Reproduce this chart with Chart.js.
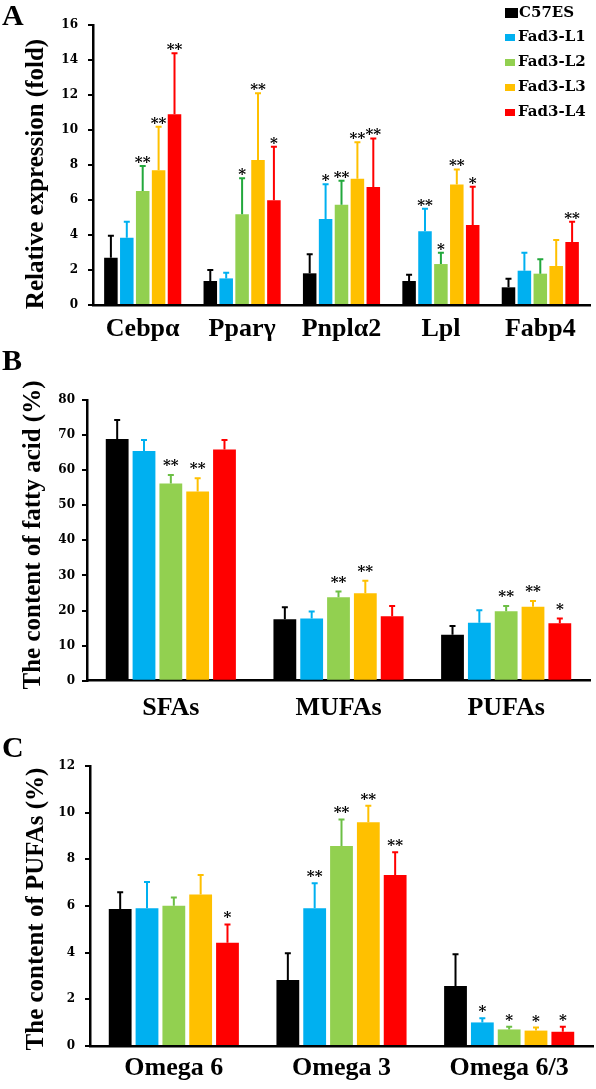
<!DOCTYPE html>
<html lang="en">
  <head>
    <meta charset="UTF-8" />
    <title>Fad3 expression and fatty acid content</title>
    <script src="https://cdn.jsdelivr.net/npm/chart.js"></script>
    <style>
      body { margin: 0; background: #fff; }
      #page { position: relative; width: 596px; height: 1089px; overflow: hidden; }
      canvas { position: absolute; left: 0; }
      .panel {
        position: absolute; left: 2px; z-index: 2;
        font: bold 30px "Liberation Serif", serif; line-height: 30px;
      }
      #legend {
        position: absolute; left: 505px; top: 0; z-index: 2;
        font: bold 15px "DejaVu Serif", serif;
      }
      #legend div { position: absolute; left: 0; white-space: nowrap; height: 16px; line-height: 16px; }
      #legend span { display: inline-block; width: 10px; height: 7px; margin-right: 3px; vertical-align: middle; }
    </style>
  </head>
  <body>
    <div id="page">
      <canvas id="chart-a" width="596" height="350" style="top:0"></canvas>
      <canvas id="chart-b" width="596" height="390" style="top:340px"></canvas>
      <canvas id="chart-c" width="596" height="389" style="top:700px"></canvas>
      <div class="panel" style="top:0">A</div>
      <div class="panel" style="top:345px">B</div>
      <div class="panel" style="top:732px">C</div>
      <div id="legend"></div>
    </div>
    <script>
      const groups = ["C57ES", "Fad3-L1", "Fad3-L2", "Fad3-L3", "Fad3-L4"];
      const colors = ["#000000", "#00b0f0", "#92d050", "#ffc000", "#ff0000"];

      // A - relative expression, one row per group
      const genes = ["Cebpα", "Pparγ", "Pnplα2", "Lpl", "Fabp4"];
      const geneMean = [
        [2.7, 1.37, 1.81, 1.37, 1.01],
        [3.85, 1.52, 4.91, 4.21, 1.96],
        [6.51, 5.18, 5.73, 2.34, 1.79],
        [7.7, 8.29, 7.22, 6.88, 2.23],
        [10.9, 5.98, 6.74, 4.57, 3.6],
      ];
      const geneSd = [
        [1.26, 0.63, 1.09, 0.36, 0.49],
        [0.91, 0.33, 1.99, 1.29, 1.03],
        [1.43, 2.06, 1.37, 0.65, 0.82],
        [2.49, 3.81, 2.08, 0.87, 1.48],
        [3.48, 3.07, 2.78, 2.19, 1.16],
      ];
      const geneSig = [
        ["", "", "", "", ""],
        ["", "", "*", "**", ""],
        ["**", "*", "**", "*", ""],
        ["**", "**", "**", "**", ""],
        ["**", "*", "**", "*", "**"],
      ];

      // B - fatty acid content (%)
      const fattyClasses = ["SFAs", "MUFAs", "PUFAs"];
      const fattyMean = [
        [68.9, 17.5, 13.1],
        [65.5, 17.7, 16.5],
        [56.2, 23.8, 19.8],
        [53.9, 24.9, 21.1],
        [65.9, 18.4, 16.4],
      ];
      const fattySd = [
        [5.4, 3.4, 2.5],
        [3.1, 2.0, 3.6],
        [2.4, 1.6, 1.5],
        [3.8, 3.6, 1.6],
        [2.7, 2.9, 1.3],
      ];
      const fattySig = [
        ["", "", ""],
        ["", "", ""],
        ["**", "**", "**"],
        ["**", "**", "**"],
        ["", "", "*"],
      ];

      // C - PUFAs content (%)
      const pufaClasses = ["Omega 6", "Omega 3", "Omega 6/3"];
      const pufaMean = [
        [5.87, 2.83, 2.57],
        [5.9, 5.9, 1.01],
        [6.01, 8.57, 0.71],
        [6.49, 9.59, 0.66],
        [4.43, 7.33, 0.61],
      ];
      const pufaSd = [
        [0.72, 1.14, 1.36],
        [1.13, 1.07, 0.18],
        [0.35, 1.14, 0.12],
        [0.84, 0.71, 0.13],
        [0.78, 0.97, 0.22],
      ];
      const pufaSig = [
        ["", "", ""],
        ["", "**", "*"],
        ["", "**", "*"],
        ["", "**", "*"],
        ["*", "**", "*"],
      ];

      // legend (panel A)
      const legend = document.getElementById("legend");
      const legendTops = [4, 28, 53, 78, 103];
      groups.forEach((g, i) => {
        const row = document.createElement("div");
        row.style.top = legendTops[i] + "px";
        const sw = document.createElement("span");
        sw.style.background = colors[i];
        if (i === 0) {
          sw.style.width = "13px";
          sw.style.height = "10px";
          sw.style.marginRight = "1px";
        }
        row.appendChild(sw);
        row.appendChild(document.createTextNode(g));
        legend.appendChild(row);
      });

      // error bars + significance stars
      const errorBars = {
        id: "errorBars",
        afterDatasetsDraw(chart, args, opts) {
          const ctx = chart.ctx;
          const y = chart.scales.y;
          chart.data.datasets.forEach((ds, i) => {
            const meta = chart.getDatasetMeta(i);
            meta.data.forEach((bar, j) => {
              const top = y.getPixelForValue(ds.data[j] + ds.sd[j]);
              ctx.save();
              ctx.strokeStyle = opts.colors[i];
              ctx.lineWidth = 2;
              ctx.beginPath();
              ctx.moveTo(bar.x, bar.y);
              ctx.lineTo(bar.x, top);
              ctx.moveTo(bar.x - 3, top);
              ctx.lineTo(bar.x + 3, top);
              ctx.stroke();
              if (ds.sig[j]) {
                ctx.fillStyle = "#000";
                ctx.font = "bold 15px 'DejaVu Serif'";
                ctx.textAlign = "center";
                ctx.textBaseline = "alphabetic";
                ctx.fillText(ds.sig[j], bar.x, top + opts.starOffset);
              }
              ctx.restore();
            });
          });
        },
      };

      // vertical axis title drawn without width limit
      const sideTitle = {
        id: "sideTitle",
        afterDraw(chart, args, opts) {
          const ctx = chart.ctx;
          ctx.save();
          ctx.translate(opts.x, opts.y);
          ctx.rotate(-Math.PI / 2);
          ctx.font = "bold 25px 'Liberation Serif'";
          ctx.fillStyle = "#000";
          ctx.textAlign = "center";
          ctx.textBaseline = "middle";
          ctx.fillText(opts.text, 0, 0);
          ctx.restore();
        },
      };

      function makePanel(id, p) {
        const datasets = groups.map((g, i) => ({
          label: g,
          data: p.mean[i],
          sd: p.sd[i],
          sig: p.sig[i],
          backgroundColor: colors[i],
          borderWidth: 0,
          categoryPercentage: 0.8,
          barPercentage: 0.85,
        }));
        new Chart(document.getElementById(id).getContext("2d"), {
          type: "bar",
          data: { labels: p.labels, datasets: datasets },
          plugins: [errorBars, sideTitle],
          options: {
            responsive: false,
            animation: false,
            devicePixelRatio: 1,
            layout: { padding: { top: p.top, right: p.right, left: 0, bottom: 0 } },
            plugins: {
              legend: { display: false },
              tooltip: { enabled: false },
              errorBars: { colors: p.errColors, starOffset: p.starOffset },
              sideTitle: { text: p.title, x: p.titleX, y: p.titleY },
            },
            scales: {
              x: {
                grid: { display: false, drawTicks: false },
                border: { display: true, color: "#000", width: 2.5 },
                ticks: {
                  color: "#000",
                  padding: p.xPad,
                  font: { family: "'Liberation Serif'", size: 26, weight: "bold" },
                },
                afterFit: (s) => { s.height = p.xHeight; },
              },
              y: {
                min: 0,
                max: p.max,
                grid: {
                  drawOnChartArea: false,
                  drawTicks: true,
                  tickLength: 5,
                  color: "#000",
                  lineWidth: 2,
                },
                border: { display: true, color: "#000", width: 2.5 },
                ticks: {
                  stepSize: p.step,
                  color: "#000",
                  padding: p.yPad,
                  font: { family: "'DejaVu Serif'", size: 12, weight: "bold" },
                },
                afterFit: (s) => { s.width = p.left; },
              },
            },
          },
        });
      }

      makePanel("chart-a", {
        labels: genes, mean: geneMean, sd: geneSd, sig: geneSig,
        max: 16, step: 2, top: 25, right: 6, left: 93, xHeight: 45, xPad: 9, yPad: 10,
        title: "Relative expression (fold)", titleX: 37, titleY: 174,
        errColors: ["#000000", "#00b0f0", "#22a83c", "#ffc000", "#ff0000"], starOffset: 1,
      });

      makePanel("chart-b", {
        labels: fattyClasses, mean: fattyMean, sd: fattySd, sig: fattySig,
        max: 80, step: 10, top: 60, right: 6, left: 87, xHeight: 49.3, xPad: 12, yPad: 7,
        title: "The content of fatty acid (%)", titleX: 34, titleY: 195,
        errColors: ["#000000", "#00b0f0", "#6cbf45", "#ffc000", "#ff0000"], starOffset: -5,
      });

      makePanel("chart-c", {
        labels: pufaClasses, mean: pufaMean, sd: pufaSd, sig: pufaSig,
        max: 12, step: 2, top: 66, right: 3, left: 90, xHeight: 43, xPad: 7, yPad: 10,
        title: "The content of PUFAs (%)", titleX: 37, titleY: 209,
        errColors: ["#000000", "#00b0f0", "#6cbf45", "#ffc000", "#ff0000"], starOffset: -2,
      });
    </script>
  </body>
</html>
